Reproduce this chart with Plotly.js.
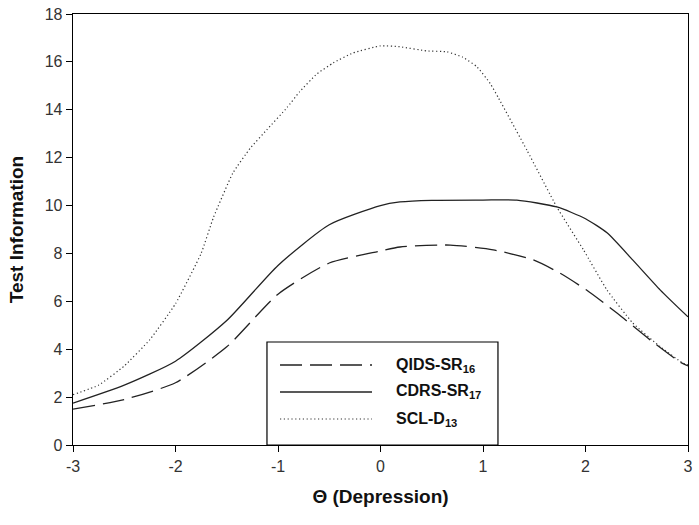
<!DOCTYPE html>
<html>
<head>
<meta charset="utf-8">
<script src="https://cdn.plot.ly/plotly-3.0.1.min.js"></script>
<style>html,body{margin:0;padding:0;background:#fff;}#chart{width:699px;height:525px;}</style>
</head>
<body>
<div id="chart"></div>
<script>
// Data
var qidsTheta = [-3, -2.5, -2, -1.5, -1, -0.5, 0, 0.19, 0.68, 1.1, 1.49, 1.75, 2.01, 2.31, 2.63, 2.92, 3];
var qidsInfo  = [1.5, 1.9, 2.6, 4.1, 6.3, 7.6, 8.1, 8.27, 8.35, 8.15, 7.73, 7.18, 6.47, 5.5, 4.39, 3.47, 3.3];

var cdrsTheta = [-3, -2.5, -2, -1.5, -1, -0.5, 0, 0.19, 0.5, 1, 1.33, 1.72, 2, 2.21, 2.46, 2.73, 3];
var cdrsInfo  = [1.75, 2.5, 3.5, 5.2, 7.5, 9.2, 10.0, 10.15, 10.22, 10.23, 10.23, 9.94, 9.45, 8.86, 7.73, 6.47, 5.35];

var sclTheta = [-3, -2.75, -2.5, -2.25, -2, -1.75, -1.63, -1.44, -1.27, -1.11, -0.91, -0.79, -0.62, -0.46, -0.27, 0, 0.19, 0.45, 0.65, 0.8, 0.94, 1.07, 1.15, 1.43, 1.72, 1.98, 2.21, 2.46, 2.73, 2.95, 3];
var sclInfo  = [2.1, 2.5, 3.3, 4.4, 5.9, 8.0, 9.5, 11.36, 12.4, 13.16, 14.1, 14.75, 15.5, 15.96, 16.37, 16.67, 16.63, 16.46, 16.42, 16.2, 15.8, 15.1, 14.5, 12.3, 9.94, 8.15, 6.47, 5.1, 4.1, 3.42, 3.35];

var seriesNames = ['<b>QIDS-SR<sub>16</sub></b>', '<b>CDRS-SR<sub>17</sub></b>', '<b>SCL-D<sub>13</sub></b>'];
var xTicks = [-3, -2, -1, 0, 1, 2, 3];
var yTicks = [0, 2, 4, 6, 8, 10, 12, 14, 16, 18];

var styles = [
  {color: '#222', width: 1.3, dash: '22px,8px'},
  {color: '#222', width: 1.3, dash: 'solid'},
  {color: '#333', width: 1.2, dash: '1.2px,2.6px'}
];

var traces = [
  {x: qidsTheta, y: qidsInfo, mode: 'lines', line: Object.assign({shape: 'spline', smoothing: 0.6}, styles[0]), name: seriesNames[0]},
  {x: cdrsTheta, y: cdrsInfo, mode: 'lines', line: Object.assign({shape: 'spline', smoothing: 0.6}, styles[1]), name: seriesNames[1]},
  {x: sclTheta, y: sclInfo, mode: 'lines', line: Object.assign({shape: 'spline', smoothing: 0.4}, styles[2]), name: seriesNames[2]}
];

// legend box (drawn with shapes and annotations)
var lgX0 = 0.3154, lgX1 = 0.691, lgTop = 0.239;
var rowY = [0.1856, 0.123, 0.0603];
var sampX0 = 0.3366, sampX1 = 0.4862, textX = 0.522;

var shapes = [{type: 'rect', xref: 'paper', yref: 'paper', x0: lgX0, x1: lgX1, y0: 0, y1: lgTop,
  line: {color: '#000', width: 1.2}, fillcolor: 'rgba(0,0,0,0)'}];
var annotations = [];
for (var i = 0; i < 3; i++) {
  shapes.push({type: 'line', xref: 'paper', yref: 'paper', x0: sampX0, x1: sampX1, y0: rowY[i], y1: rowY[i],
    line: {color: styles[i].color, width: styles[i].width, dash: styles[i].dash}});
  annotations.push({xref: 'paper', yref: 'paper', x: textX, y: rowY[i], xanchor: 'left', yanchor: 'middle',
    text: seriesNames[i], showarrow: false, font: {family: 'Liberation Sans, Arial, sans-serif', size: 16, color: '#111'}});
}

var layout = {
  width: 699, height: 525,
  margin: {l: 73, r: 11, t: 14, b: 80},
  paper_bgcolor: '#fff', plot_bgcolor: '#fff',
  showlegend: false,
  font: {family: 'Liberation Sans, Arial, sans-serif', color: '#333', size: 15},
  xaxis: {
    range: [-3, 3], tickvals: xTicks, ticktext: xTicks.map(String),
    showgrid: false, zeroline: false, showline: true, linecolor: '#000', linewidth: 1.3, mirror: true,
    ticks: 'outside', ticklen: 6, tickcolor: '#000', tickfont: {size: 16, color: '#333'},
    title: {text: '<b>\u0398 (Depression)</b>', font: {size: 19, color: '#111'}, standoff: 16}
  },
  yaxis: {
    range: [0, 18], tickvals: yTicks, ticktext: yTicks.map(String),
    showgrid: false, zeroline: false, showline: true, linecolor: '#000', linewidth: 1.3, mirror: true,
    ticks: 'outside', ticklen: 6, tickcolor: '#000', tickfont: {size: 16, color: '#333'},
    title: {text: '<b>Test Information</b>', font: {size: 19, color: '#111'}, standoff: 16}
  },
  shapes: shapes,
  annotations: annotations
};

Plotly.newPlot('chart', traces, layout, {displayModeBar: false, staticPlot: true});
</script>
</body>
</html>
